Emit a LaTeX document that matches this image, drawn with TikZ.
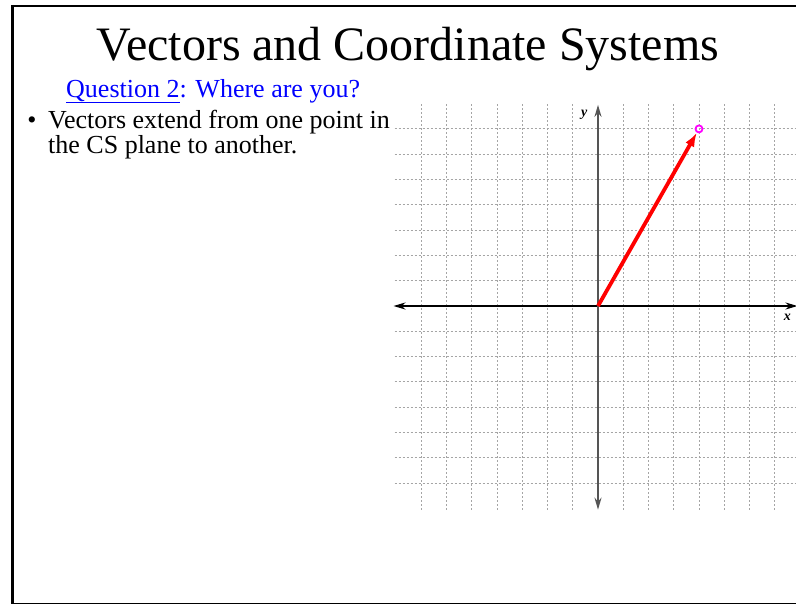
\documentclass[tikz,border=0pt]{standalone}
\usepackage{fontspec}
\setmainfont{Liberation Serif}
\usetikzlibrary{arrows.meta}
\definecolor{linkblue}{RGB}{0,0,255}
\definecolor{gridgray}{RGB}{165,165,165}
\definecolor{axisgray}{RGB}{85,85,85}
\definecolor{vecred}{RGB}{255,0,0}
\definecolor{ptmagenta}{RGB}{255,0,255}
\tikzset{
    % Grid
    gridline/.style={
        draw=gridgray,
        line width=1pt,
        dash pattern=on 2pt off 2pt
    },
    % Axes
    xaxis/.style={
        {Stealth[length=12pt,width=7pt]}-{Stealth[length=12pt,width=7pt]},
        line width=1.8pt,
        draw=black
    },
    yaxis/.style={
        {Stealth[length=12pt,width=7pt]}-{Stealth[length=12pt,width=7pt]},
        line width=1.8pt,
        draw=axisgray
    },
    vecarrow/.style={
        -{Latex[length=14pt,width=10pt]},
        line width=3.8pt,
        draw=vecred
    },
    endpoint/.style={
        circle,
        draw=ptmagenta,
        line width=1.8pt,
        inner sep=0pt,
        minimum size=7pt
    },
    axislabel/.style={
        font=\fontsize{14}{14}\selectfont\bfseries\itshape,
        inner sep=0pt
    }
}

\begin{document}
\begin{tikzpicture}[x=1pt, y=-1pt]

    \useasboundingbox (0,0) rectangle (796,605);

    % Slide frame
    \draw[line width=2.5pt] (796,6) -- (13,6);
    \draw[line width=3pt] (12.5,4.8) -- (12.5,604.2);
    \draw[line width=1.5pt] (11,603.5) -- (796,603.5);

    % Title
    \node[anchor=base, inner sep=0pt, font=\fontsize{48}{48}\selectfont] (title) at (408,60) {Vectors and Coordinate Systems};

    % Question
    \node[anchor=base west, inner sep=0pt, text=linkblue, font=\fontsize{26}{26}\selectfont] (question) at (66,97)
        {\underline{Question 2}: Where are you?};

    % Bullet
    \node[anchor=base, inner sep=0pt, font=\fontsize{26}{26}\selectfont] (bullet) at (32,128) {\textbullet};
    \node[anchor=base west, inner sep=0pt, align=left, font=\fontsize{26}{25}\selectfont] (point) at (48,153)
        {Vectors extend from one point in\\the CS plane to another.};

    % Coordinate plane
    \begin{scope}[shift={(598,306)}, x=25.25pt, y=25.3pt]
        \begin{scope}
            \clip (-8.2,-8.2) rectangle (7.9,8.2);
            \foreach \k in {-7,...,-1,1,2,...,7} {
                \draw[gridline] (-8.05,\k) -- (8,\k);
                \draw[gridline] (\k,-8.05) -- (\k,8.05);
            }
        \end{scope}

        \coordinate (xleft) at (-8.1,0);
        \coordinate (xright) at (7.9,0);
        \coordinate (ybottom) at (0,-8.05);
        \coordinate (ytop) at (0,7.95);
        \draw[xaxis] (xleft) -- (xright);
        \draw[yaxis] (ybottom) -- (ytop);
        \node[axislabel] (ylabel) at (-0.55,7.55) {y};
        \node[axislabel] (xlabel) at (7.5,-0.45) {x};

        % Vector
        \coordinate (origin) at (0,0);
        \node[endpoint] (tip) at (4,7) {};
        \draw[vecarrow] (origin) -- (tip);
    \end{scope}

\end{tikzpicture}
\end{document}
